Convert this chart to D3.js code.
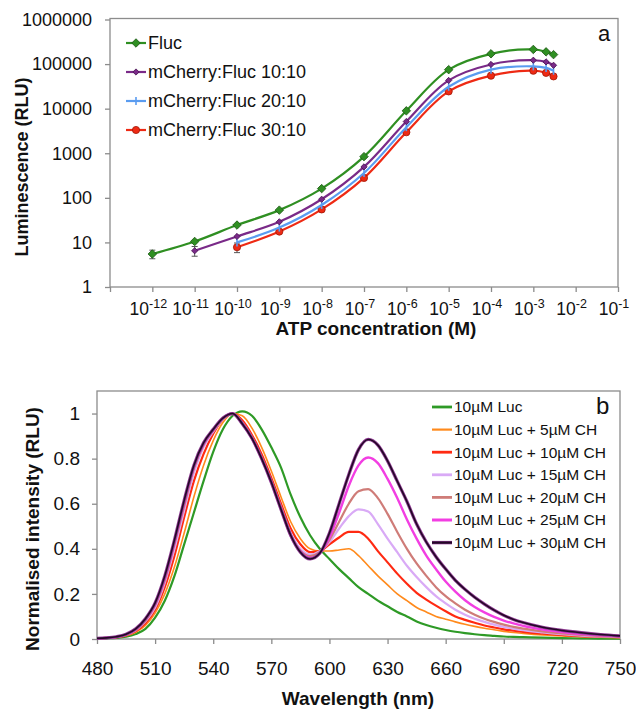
<!DOCTYPE html>
<html>
<head>
<meta charset="utf-8">
<script src="https://cdn.jsdelivr.net/npm/d3@7"></script>
<style>
  body { margin: 0; background: #fff; }
  svg  { display: block; font-family: "Liberation Sans", Arial, sans-serif; }
  .frame { fill: none; stroke: #8c8c8c; stroke-width: 1.3; }
  .axis path { display: none; }
  .axis line { stroke: #8c8c8c; stroke-width: 1.3; }
  .axis text { fill: #111; }
  .title { font-weight: bold; fill: #111; }
</style>
</head>
<body>
<svg id="chart" width="636" height="710"></svg>
<script>
// ── Panel a: ATP titration (log / log) ─────────────────────────────────────
const atpConc   = [1e-12, 1e-11, 1e-10, 1e-9, 1e-8, 1e-7, 1e-6, 1e-5, 1e-4, 1e-3, 2e-3, 3e-3];
const flucRLU   = [5.5, 10.5, 24.5, 53, 161, 840, 8950, 75000, 170000, 213000, 188000, 163000];
const cherry10  = [null, 6.5, 13.6, 29, 93, 495, 5150, 43000, 98000, 122000, 112000, 94000];
const cherry20  = [null, null, 10, 21.5, 69, 360, 3850, 31000, 75000, 89000, 82000, 71000];
const cherry30  = [null, null, 7.8, 17.5, 55, 280, 2960, 24400, 55000, 71000, 63500, 53000];
const flucErr   = [1.2, 0, 0, 0, 0, 0, 0, 0, 0, 0, 0, 0];
const cherry10Err = [0, 1.6, 0, 0, 0, 0, 0, 0, 0, 0, 0, 0];
const cherry30Err = [0, 0, 1.9, 0, 0, 0, 0, 0, 0, 0, 0, 0];
const seriesNamesA = ['Fluc', 'mCherry:Fluc 10:10', 'mCherry:Fluc 20:10', 'mCherry:Fluc 30:10'];
const yTicksA = [1, 10, 100, 1000, 10000, 100000, 1000000];
const xExpA   = [-12, -11, -10, -9, -8, -7, -6, -5, -4, -3, -2, -1];

// ── Panel b: emission spectra ──────────────────────────────────────────────
const wavelength = [480,485,490,495,500,505,510,515,520,525,530,535,540,545,550,555,560,565,570,575,
                    580,585,590,595,600,605,610,615,620,625,630,635,640,645,650,655,660,665,670,675,
                    680,685,690,695,700,710,720,730,740,750];
const luc0  = [0.002,0.003,0.005,0.010,0.022,0.045,0.095,0.170,0.280,0.420,0.560,0.700,0.830,0.930,0.990,1.010,0.990,0.930,0.850,0.760,
               0.640,0.540,0.460,0.400,0.355,0.310,0.270,0.230,0.200,0.170,0.145,0.120,0.100,0.078,0.062,0.050,0.040,0.032,0.026,0.021,
               0.017,0.014,0.011,0.009,0.008,0.006,0.004,0.003,0.002,0.002];
const ch5   = [0.002,0.004,0.007,0.014,0.030,0.060,0.115,0.200,0.320,0.470,0.630,0.770,0.880,0.960,1.000,0.990,0.935,0.850,0.745,0.630,
               0.520,0.445,0.400,0.390,0.390,0.395,0.400,0.370,0.325,0.280,0.240,0.200,0.170,0.140,0.120,0.100,0.088,0.076,0.065,0.056,
               0.048,0.041,0.034,0.029,0.025,0.018,0.013,0.010,0.008,0.006];
const ch10  = [0.003,0.005,0.008,0.016,0.035,0.070,0.130,0.230,0.370,0.540,0.700,0.820,0.910,0.975,1.000,0.970,0.905,0.820,0.715,0.600,
               0.490,0.420,0.385,0.390,0.420,0.450,0.475,0.475,0.445,0.390,0.340,0.290,0.245,0.205,0.175,0.148,0.123,0.100,0.085,0.072,
               0.060,0.051,0.043,0.037,0.032,0.024,0.018,0.013,0.010,0.008];
const ch15  = [0.003,0.005,0.009,0.018,0.038,0.078,0.140,0.250,0.400,0.570,0.735,0.850,0.920,0.975,1.000,0.960,0.895,0.805,0.700,0.585,
               0.470,0.400,0.375,0.390,0.430,0.490,0.545,0.575,0.565,0.510,0.445,0.385,0.325,0.275,0.230,0.190,0.158,0.130,0.108,0.090,
               0.076,0.064,0.054,0.046,0.039,0.029,0.021,0.015,0.011,0.008];
const ch20  = [0.003,0.005,0.009,0.019,0.040,0.082,0.150,0.260,0.420,0.590,0.755,0.860,0.925,0.978,1.000,0.957,0.892,0.802,0.698,0.578,
               0.462,0.392,0.368,0.385,0.440,0.520,0.600,0.655,0.665,0.625,0.555,0.475,0.400,0.335,0.280,0.230,0.190,0.158,0.130,0.108,
               0.090,0.076,0.064,0.054,0.046,0.034,0.025,0.018,0.013,0.009];
const ch25  = [0.003,0.005,0.009,0.020,0.043,0.087,0.155,0.270,0.430,0.605,0.765,0.865,0.928,0.980,1.000,0.955,0.890,0.800,0.695,0.575,
               0.458,0.388,0.360,0.380,0.450,0.560,0.680,0.770,0.805,0.780,0.710,0.625,0.530,0.445,0.370,0.310,0.255,0.210,0.172,0.142,
               0.118,0.098,0.082,0.069,0.058,0.042,0.031,0.022,0.016,0.011];
const ch30  = [0.003,0.005,0.010,0.021,0.045,0.090,0.160,0.280,0.440,0.615,0.770,0.870,0.930,0.980,1.000,0.955,0.890,0.800,0.695,0.575,
               0.460,0.385,0.355,0.380,0.470,0.600,0.730,0.840,0.885,0.860,0.790,0.700,0.610,0.510,0.430,0.365,0.310,0.260,0.220,0.185,
               0.155,0.128,0.105,0.087,0.073,0.052,0.038,0.028,0.020,0.014];
const seriesNamesB = ['10µM Luc', '10µM Luc + 5µM CH', '10µM Luc + 10µM CH', '10µM Luc + 15µM CH',
                      '10µM Luc + 20µM CH', '10µM Luc + 25µM CH', '10µM Luc + 30µM CH'];
const yTicksB = [0, 0.2, 0.4, 0.6, 0.8, 1];
const xTicksB = [480, 510, 540, 570, 600, 630, 660, 690, 720, 750];

const svg = d3.select('#chart');

// ══════════════════════════════════════════════════════════════════════════
// Panel a
// ══════════════════════════════════════════════════════════════════════════
const xA = d3.scaleLog().domain([1e-13, 1e-1]).range([110, 618]);
const yA = d3.scaleLog().domain([1, 1e6]).range([287, 19.5]);

svg.append('rect').attr('class', 'frame')
  .attr('x', 110).attr('y', 18.5).attr('width', 508).attr('height', 268.5);

// y axis
const gyA = svg.append('g').attr('class', 'axis').attr('transform', 'translate(110,0)')
  .call(d3.axisLeft(yA).tickValues(yTicksA).tickSize(5).tickPadding(13).tickFormat(d3.format('d')));
gyA.selectAll('text').style('font-size', '18px');

// x axis: ticks only, labels written as 10 with superscript exponent
svg.append('g').attr('class', 'axis').attr('transform', 'translate(0,287)')
  .call(d3.axisBottom(xA).tickValues([1e-13].concat(xExpA.map(e => Math.pow(10, e))))
    .tickSize(5).tickFormat(''));

const xLab = svg.append('g');
xExpA.forEach(e => {
  const t = xLab.append('text')
    .attr('x', xA(Math.pow(10, e)) - 4)
    .attr('y', 315)
    .attr('text-anchor', 'middle')
    .style('font-size', '17.5px')
    .attr('fill', '#111');
  t.append('tspan').text('10');
  t.append('tspan').attr('dy', -7).style('font-size', '12.5px').text(String(e));
});

svg.append('text').attr('class', 'title')
  .attr('x', 376).attr('y', 335).attr('text-anchor', 'middle')
  .style('font-size', '19px').text('ATP concentration (M)');
svg.append('text').attr('class', 'title')
  .attr('transform', 'translate(28,167) rotate(-90)').attr('text-anchor', 'middle')
  .style('font-size', '18px').text('Luminescence (RLU)');
svg.append('text').attr('x', 598).attr('y', 41).style('font-size', '22px').attr('fill', '#111').text('a');

const styleA = [
  { vals: flucRLU,  err: flucErr,     color: '#2f8f22', edge: '#1f5a16', marker: 'bigDiamond' },
  { vals: cherry10, err: cherry10Err, color: '#7a2a88', edge: '#4a1454', marker: 'diamond' },
  { vals: cherry20, err: null,        color: '#5a9cf0', edge: '#3a78d0', marker: 'dash' },
  { vals: cherry30, err: cherry30Err, color: '#ee2a14', edge: '#a01808', marker: 'circle' }
];

const lineA = d3.line()
  .defined(d => d.v != null)
  .x(d => xA(d.c)).y(d => yA(d.v))
  .curve(d3.curveCatmullRom.alpha(0.5));

function drawMarker(g, kind, x, y, s) {
  if (kind === 'bigDiamond' || kind === 'diamond') {
    const side = kind === 'bigDiamond' ? 6 : 4.4;
    g.append('rect').attr('x', -side / 2).attr('y', -side / 2).attr('width', side).attr('height', side)
      .attr('transform', `translate(${x},${y}) rotate(45)`)
      .attr('fill', s.color).attr('stroke', s.edge).attr('stroke-width', 0.8);
  } else if (kind === 'circle') {
    g.append('circle').attr('cx', x).attr('cy', y).attr('r', 3.6)
      .attr('fill', s.color).attr('stroke', s.edge).attr('stroke-width', 0.8);
  } else {
    g.append('line').attr('x1', x).attr('x2', x).attr('y1', y - 4).attr('y2', y + 4)
      .attr('stroke', s.color).attr('stroke-width', 1.6);
  }
}

// draw back to front so green sits on top
styleA.slice().reverse().forEach(s => {
  const pts = atpConc.map((c, i) => ({ c, v: s.vals[i], e: s.err ? s.err[i] : 0 }));
  const g = svg.append('g');
  g.append('path').datum(pts).attr('d', lineA)
    .attr('fill', 'none').attr('stroke', s.color).attr('stroke-width', 2.2);
  pts.filter(p => p.v != null && p.e > 0).forEach(p => {
    const x = xA(p.c), y0 = yA(p.v - p.e), y1 = yA(p.v + p.e);
    g.append('line').attr('x1', x).attr('x2', x).attr('y1', y0).attr('y2', y1)
      .attr('stroke', '#555').attr('stroke-width', 1);
    [y0, y1].forEach(yy => g.append('line').attr('x1', x - 3).attr('x2', x + 3)
      .attr('y1', yy).attr('y2', yy).attr('stroke', '#555').attr('stroke-width', 1));
  });
  pts.filter(p => p.v != null).forEach(p => drawMarker(g, s.marker, xA(p.c), yA(p.v), s));
});

// legend a
const legA = svg.append('g');
seriesNamesA.forEach((name, i) => {
  const y = 43 + i * 29, s = styleA[i];
  legA.append('line').attr('x1', 126).attr('x2', 146).attr('y1', y).attr('y2', y)
    .attr('stroke', s.color).attr('stroke-width', 2.2);
  drawMarker(legA, s.marker, 136, y, s);
  legA.append('text').attr('x', 148).attr('y', y).attr('dy', '0.35em')
    .style('font-size', '18px').attr('fill', '#111').text(name);
});

// ══════════════════════════════════════════════════════════════════════════
// Panel b
// ══════════════════════════════════════════════════════════════════════════
const xB = d3.scaleLinear().domain([480, 750]).range([97, 620]);
const yB = d3.scaleLinear().domain([0, 1.1]).range([639, 391]);

svg.append('rect').attr('class', 'frame')
  .attr('x', 97).attr('y', 391).attr('width', 523).attr('height', 248);

const gyB = svg.append('g').attr('class', 'axis').attr('transform', 'translate(97,0)')
  .call(d3.axisLeft(yB).tickValues(yTicksB).tickSize(5).tickPadding(12).tickFormat(d3.format('')));
gyB.selectAll('text').style('font-size', '19px');

const gxB = svg.append('g').attr('class', 'axis').attr('transform', 'translate(0,639)')
  .call(d3.axisBottom(xB).tickValues(xTicksB).tickSize(5).tickPadding(18).tickFormat(d3.format('d')));
gxB.selectAll('text').style('font-size', '19px');

svg.append('text').attr('class', 'title')
  .attr('x', 358).attr('y', 705).attr('text-anchor', 'middle')
  .style('font-size', '19px').text('Wavelength (nm)');
svg.append('text').attr('class', 'title')
  .attr('transform', 'translate(39,529) rotate(-90)').attr('text-anchor', 'middle')
  .style('font-size', '19px').text('Normalised intensity (RLU)');
svg.append('text').attr('x', 596).attr('y', 414).style('font-size', '24px').attr('fill', '#111').text('b');

const styleB = [
  { vals: luc0, color: '#2e9a26', width: 2.2 },
  { vals: ch5,  color: '#ff8a1c', width: 1.6 },
  { vals: ch10, color: '#ff2a12', width: 2.2 },
  { vals: ch15, color: '#d9aaf6', width: 2.2 },
  { vals: ch20, color: '#cf7c78', width: 2.2 },
  { vals: ch25, color: '#f23ee2', width: 2.4 },
  { vals: ch30, color: '#230826', width: 1.6, halo: '#8e3a92' }
];

const lineB = d3.line()
  .x((d, i) => xB(wavelength[i])).y(d => yB(d))
  .curve(d3.curveMonotoneX);

styleB.forEach(s => {
  if (s.halo) {
    svg.append('path').datum(s.vals).attr('d', lineB)
      .attr('fill', 'none').attr('stroke', s.halo).attr('stroke-width', 3.2);
  }
  svg.append('path').datum(s.vals).attr('d', lineB)
    .attr('fill', 'none').attr('stroke', s.color).attr('stroke-width', s.width);
});

const legB = svg.append('g');
seriesNamesB.forEach((name, i) => {
  const y = 407 + i * 22.6, s = styleB[i];
  if (s.halo) {
    legB.append('line').attr('x1', 432).attr('x2', 452).attr('y1', y).attr('y2', y)
      .attr('stroke', s.halo).attr('stroke-width', 3.4);
  }
  legB.append('line').attr('x1', 432).attr('x2', 452).attr('y1', y).attr('y2', y)
    .attr('stroke', s.color).attr('stroke-width', s.width + 0.6);
  legB.append('text').attr('x', 454).attr('y', y).attr('dy', '0.35em')
    .style('font-size', '15.5px').attr('fill', '#111').text(name);
});
</script>
</body>
</html>
